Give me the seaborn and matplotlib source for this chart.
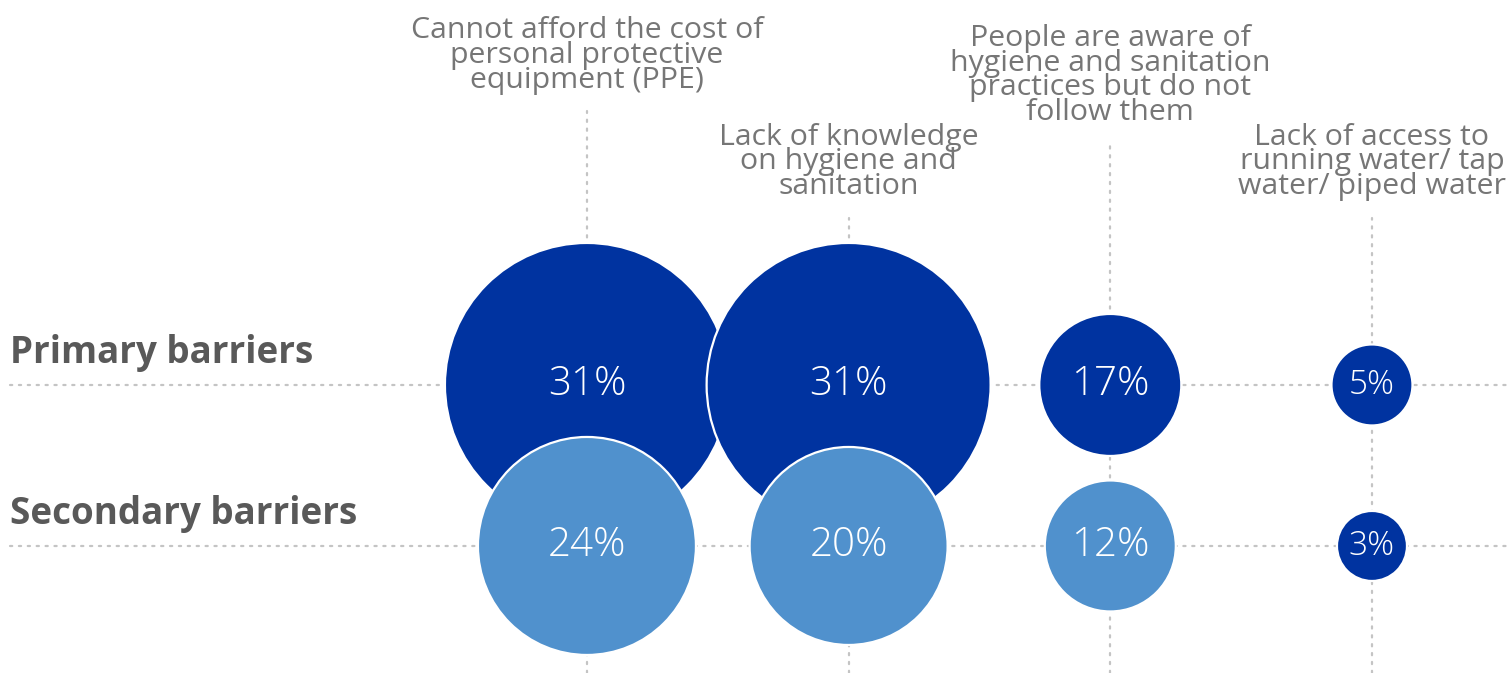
import numpy as np
import pandas as pd
import matplotlib
matplotlib.use("Agg")
import matplotlib.pyplot as plt
import seaborn as sns

# ---------------- data ----------------
categories = [
    "Cannot afford the cost of\npersonal protective\nequipment (PPE)",
    "Lack of knowledge\non hygiene and\nsanitation",
    "People are aware of\nhygiene and sanitation\npractices but do not\nfollow them",
    "Lack of access to\nrunning water/ tap\nwater/ piped water",
]
series = ["Primary barriers", "Secondary barriers"]
primary_values = [31, 31, 17, 5]
secondary_values = [24, 20, 12, 3]

# ---------------- style / layout ----------------
DARK = "#0033A0"
LIGHT = "#5091CD"
GRID = "#C4C4C4"
LABEL_GREY = "#767676"
ROW_GREY = "#595959"
DPI = 100
# bubble diameter scale (px) used by the size mapping
diameter_scale = {31: 284, 24: 218, 20: 198, 17: 142, 12: 131, 5: 81, 3: 70}
dark_override = [("Secondary barriers", 3)]  # category index drawn in dark tone
label_line_top = [2.70, 2.04, 2.50, 2.04]    # where each column's dotted line ends (data y)
YLIM = (-0.789, 3.391)
XLIM = (-2.243, 3.516)

sns.set_theme(style="white")
plt.rcParams["font.family"] = ["Open Sans", "DejaVu Sans"]

rows = []
for s_i, (name, vals) in enumerate(zip(series, [primary_values, secondary_values])):
    for c_i, v in enumerate(vals):
        rows.append({"series": name, "x": c_i, "y": 1 - s_i, "value": v})
df = pd.DataFrame(rows)
df["tone"] = df["series"]
for name, idx in dark_override:
    df.loc[(df["series"] == name) & (df["x"] == idx), "tone"] = series[0]

fig = plt.figure(figsize=(15.07, 6.73), dpi=DPI)
ax = fig.add_axes([0, 0, 1, 1])

dot = dict(color=GRID, linestyle=(0, (1, 3)), linewidth=1.6, dash_capstyle="round", zorder=0)
for yv in [1, 0]:
    ax.axhline(yv, xmin=0.0066, xmax=1.0, **dot)
for c_i, top in enumerate(label_line_top):
    ax.plot([c_i, c_i], [YLIM[0], top], **dot)

sizes = {v: (d * 72 / DPI) ** 2 for v, d in diameter_scale.items()}
sns.scatterplot(data=df, x="x", y="y", hue="tone", palette={series[0]: DARK, series[1]: LIGHT},
                size="value", sizes=sizes, legend=False, edgecolor="white", linewidth=1.6,
                ax=ax, zorder=2)
ax.set_xlim(*XLIM)
ax.set_ylim(*YLIM)
ax.axis("off")

for _, r in df.iterrows():
    fs = 29 if r["value"] >= 10 else 24
    ax.text(r["x"], r["y"], f"{r['value']}%", color="white", fontsize=fs,
            fontweight="light", ha="center", va="center", zorder=3)

for c_i, (lab, top) in enumerate(zip(categories, label_line_top)):
    ax.annotate(lab, xy=(c_i, top), xytext=(0, 17), textcoords="offset points",
                ha="center", va="baseline", multialignment="center", fontsize=21.8,
                color=LABEL_GREY, linespacing=0.8)

for yv, name in zip([1, 0], series):
    ax.annotate(name, xy=(0, yv), xycoords=("axes fraction", "data"), xytext=(7, 16),
                textcoords="offset points", ha="left", va="baseline", fontsize=26.5,
                fontweight="bold", color=ROW_GREY)

fig.savefig("out.png", dpi=DPI)
